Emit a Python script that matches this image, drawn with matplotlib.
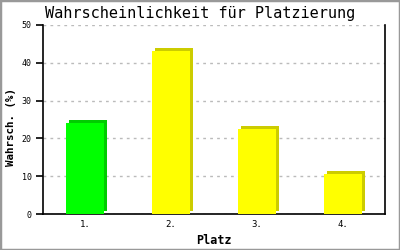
import matplotlib.pyplot as plt
import matplotlib.transforms as mtransforms
from matplotlib.patches import Rectangle

# Data
places = ['1.', '2.', '3.', '4.']
probs = [24.2, 43.2, 22.5, 10.6]
front_colors = ['#00ff00', '#ffff00', '#ffff00', '#ffff00']
side_colors = ['#00cc00', '#cccc00', '#cccc00', '#cccc00']

fig = plt.figure(figsize=(4, 2.5), dpi=100)
ax = fig.add_axes([43 / 400, 36 / 250, 342 / 400, 189 / 250])

x = list(range(len(places)))
# fake 3d shading: darker bar shifted a few pixels up/right
shift = mtransforms.offset_copy(ax.transData, fig=fig, x=3, y=3, units='dots')
ax.bar(x, probs, width=0.45, color=side_colors, transform=shift, zorder=2)
ax.bar(x, probs, width=0.45, color=front_colors, zorder=3)

ax.set_xlim(-0.49, 3.49)
ax.set_ylim(0, 50)
ax.set_yticks([0, 10, 20, 30, 40, 50])
ax.set_xticks(x)
ax.set_xticklabels(places)
ax.yaxis.grid(True, linestyle=(0, (2, 3)), color='#bbbbbb', linewidth=1)
ax.set_axisbelow(True)

ax.spines['top'].set_visible(False)
for s in ['left', 'right', 'bottom']:
    ax.spines[s].set_linewidth(1.2)

ax.tick_params(axis='y', length=5, width=1.2, labelsize=6, pad=3)
ax.tick_params(axis='x', length=0, labelsize=6.5, pad=4)
for lab in ax.get_xticklabels() + ax.get_yticklabels():
    lab.set_family('DejaVu Sans Mono')

ax.set_xlabel('Platz', family='DejaVu Sans Mono', fontweight='bold', fontsize=8.5, labelpad=4)
ax.set_ylabel('Wahrsch. (%)', family='DejaVu Sans Mono', fontweight='bold', fontsize=7.8)
ax.yaxis.set_label_coords(-0.078, 0.46)
fig.text(0.5, 0.945, 'Wahrscheinlichkeit für Platzierung', ha='center', va='center',
         family='DejaVu Sans Mono', fontsize=11)

# grey border round the picture
fig.patches.append(Rectangle((0, 0), 1, 1, transform=fig.transFigure, fill=False,
                             edgecolor='#999999', linewidth=2.5))

fig.savefig('out.png', dpi=100)
